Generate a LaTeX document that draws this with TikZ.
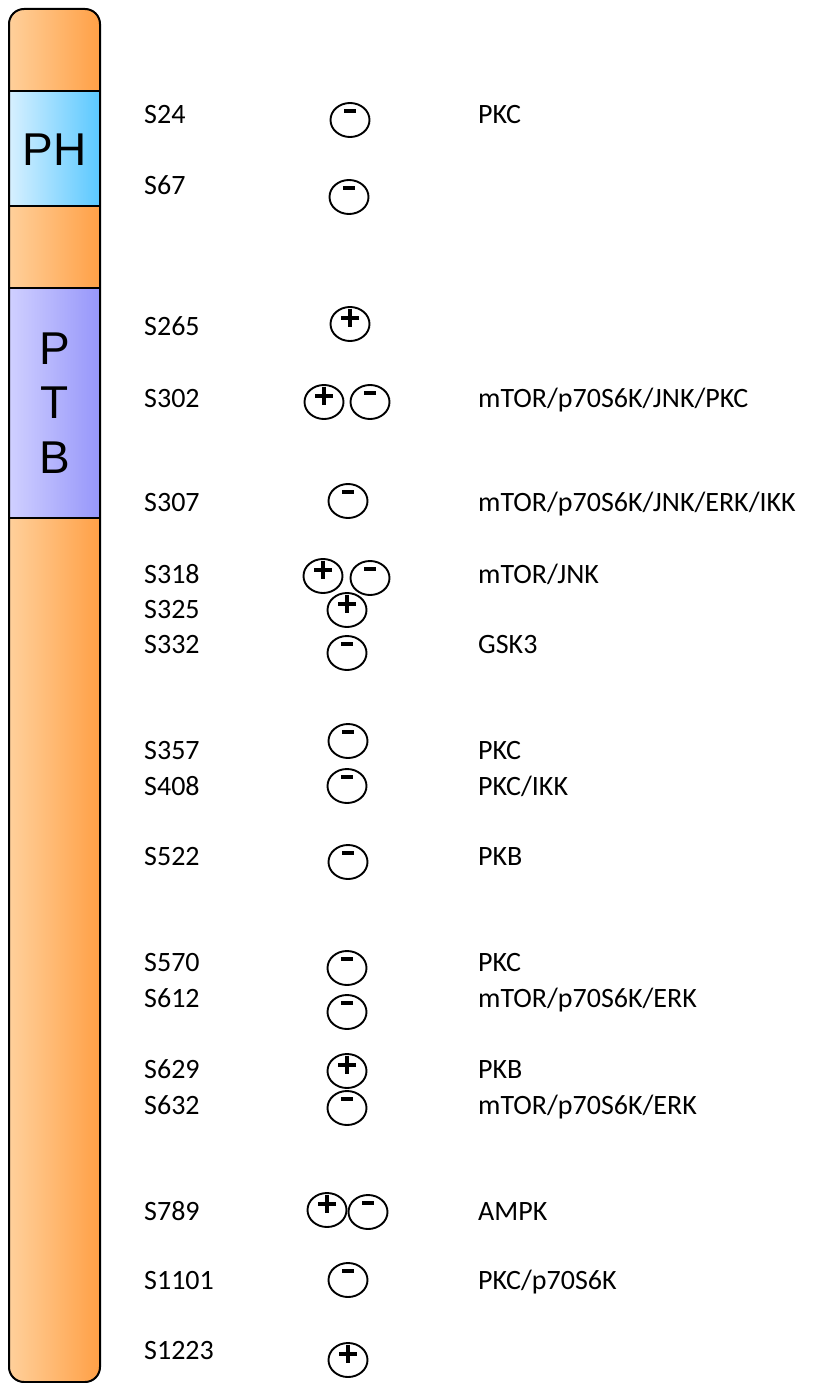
\documentclass[tikz,border=0pt]{standalone}
\usepackage{fontspec}
\setmainfont{Carlito}
\newfontfamily\arialf{Liberation Sans}
\usetikzlibrary{shapes.geometric}
\definecolor{orL}{RGB}{255,208,155}
\definecolor{orR}{RGB}{255,160,70}
\definecolor{phL}{RGB}{215,240,255}
\definecolor{phR}{RGB}{90,200,255}
\definecolor{ptL}{RGB}{208,208,255}
\definecolor{ptR}{RGB}{150,150,250}
\tikzset{
  lbl/.style={anchor=base west, inner sep=0pt, font=\fontsize{28}{30}\selectfont},
  dom/.style={font=\arialf\fontsize{46}{54}\selectfont, inner sep=0pt, align=center},
  circ/.style={draw, line width=1.9pt, ellipse, minimum width=39pt, minimum height=34pt, inner sep=0pt},
  plusc/.style={circ, path picture={
     \draw[line width=4.2pt] ([shift={(-9pt,6pt)}]path picture bounding box.center) -- ++(18pt,0);
     \draw[line width=4.2pt] ([shift={(0pt,15pt)}]path picture bounding box.center) -- ++(0,-18pt);}},
  minusc/.style={circ, path picture={
     \draw[line width=4.2pt] ([shift={(-6pt,9pt)}]path picture bounding box.center) -- ++(12pt,0);}}
}
\begin{document}
\begin{tikzpicture}[x=1pt,y=-1pt]
\useasboundingbox (0,0) rectangle (817,1383);
% bar
\shade[left color=orL, right color=orR, rounded corners=15pt] (9,9) rectangle (100,1382);
\shade[left color=phL, right color=phR] (9,91) rectangle (100,206);
\shade[left color=ptL, right color=ptR] (9,288) rectangle (100,518);
\draw[line width=1.5pt] (9,91) -- (100,91) (9,206) -- (100,206) (9,288) -- (100,288) (9,518) -- (100,518);
\draw[line width=2pt, rounded corners=15pt] (9,9) rectangle (100,1382);
\node[dom] (ph) at (54.5,150) {PH};
\node[dom] (p) at (54.5,349) {P};
\node[dom] (t) at (54.5,403) {T};
\node[dom] (b) at (54.5,458) {B};
% site labels
\node[lbl] (s24) at (144,124) {S24};
\node[lbl] (s67) at (144,195) {S67};
\node[lbl] (s265) at (144,335) {S265};
\node[lbl] (s302) at (144,407) {S302};
\node[lbl] (s307) at (144,511) {S307};
\node[lbl] (s318) at (144,583) {S318};
\node[lbl] (s325) at (144,618) {S325};
\node[lbl] (s332) at (144,653) {S332};
\node[lbl] (s357) at (144,759) {S357};
\node[lbl] (s408) at (144,795) {S408};
\node[lbl] (s522) at (144,865) {S522};
\node[lbl] (s570) at (144,971) {S570};
\node[lbl] (s612) at (144,1007) {S612};
\node[lbl] (s629) at (144,1078) {S629};
\node[lbl] (s632) at (144,1114) {S632};
\node[lbl] (s789) at (144,1220) {S789};
\node[lbl] (s1101) at (144,1289) {S1101};
\node[lbl] (s1223) at (144,1359) {S1223};
% kinases
\node[lbl] (k24) at (478,124) {PKC};
\node[lbl] (k302) at (478,407) {mTOR/p70S6K/JNK/PKC};
\node[lbl] (k307) at (478,511) {mTOR/p70S6K/JNK/ERK/IKK};
\node[lbl] (k318) at (478,583) {mTOR/JNK};
\node[lbl] (k332) at (478,653) {GSK3};
\node[lbl] (k357) at (478,759) {PKC};
\node[lbl] (k408) at (478,795) {PKC/IKK};
\node[lbl] (k522) at (478,865) {PKB};
\node[lbl] (k570) at (478,971) {PKC};
\node[lbl] (k612) at (478,1007) {mTOR/p70S6K/ERK};
\node[lbl] (k629) at (478,1078) {PKB};
\node[lbl] (k632) at (478,1114) {mTOR/p70S6K/ERK};
\node[lbl] (k789) at (478,1220) {AMPK};
\node[lbl] (k1101) at (478,1289) {PKC/p70S6K};
% circles
\node[minusc] (c24) at (350,120) {};
\node[minusc] (c67) at (349,197) {};
\node[plusc] (c265) at (350,324) {};
\node[plusc] (c302p) at (324,402) {};
\node[minusc] (c302m) at (370,402) {};
\node[minusc] (c307) at (348,501) {};
\node[plusc] (c318p) at (323,576) {};
\node[minusc] (c318m) at (370,578) {};
\node[plusc] (c325) at (347,610) {};
\node[minusc] (c332) at (347,653) {};
\node[minusc] (c357) at (348,741) {};
\node[minusc] (c408) at (347,786) {};
\node[minusc] (c522) at (348,862) {};
\node[minusc] (c570) at (347,968) {};
\node[minusc] (c612) at (347,1012) {};
\node[plusc] (c629) at (347,1071) {};
\node[minusc] (c632) at (347,1108) {};
\node[plusc] (c789p) at (327,1210) {};
\node[minusc] (c789m) at (368,1212) {};
\node[minusc] (c1101) at (348,1280) {};
\node[plusc] (c1223) at (348,1360) {};
\end{tikzpicture}
\end{document}
